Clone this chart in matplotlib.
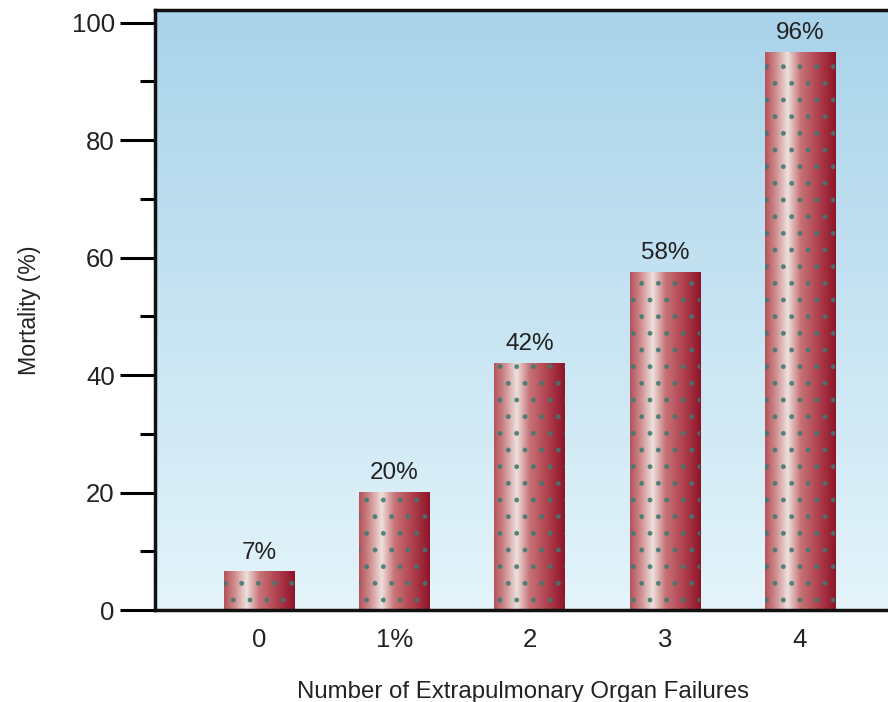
import numpy as np
import matplotlib
matplotlib.use('Agg')
import matplotlib.pyplot as plt
from matplotlib.colors import LinearSegmentedColormap

plt.rcParams['font.family'] = ['Liberation Sans', 'DejaVu Sans']
plt.rcParams['hatch.linewidth'] = 1.1

# Data
categories = ['0', '1%', '2', '3', '4']
mortality = [6.5, 20, 42, 57.5, 95]
value_labels = ['7%', '20%', '42%', '58%', '96%']

fig = plt.figure(figsize=(8.88, 7.02), dpi=100)
ax = fig.add_axes([0.1745, 0.131, 0.83, 0.855])

x = np.arange(len(categories))
bar_w = 0.52

# background gradient (light blue top -> nearly white bottom)
bg = LinearSegmentedColormap.from_list('bg', ['#e4f4fa', '#a9d3ea'])
grad = np.linspace(0, 1, 256).reshape(-1, 1)
ax.imshow(grad, cmap=bg, origin='lower', aspect='auto', extent=[0, 1, 0, 1],
          transform=ax.transAxes, zorder=0)

# shaded cylinder look for the bars
barcm = LinearSegmentedColormap.from_list('bar', [
    (0.0, '#b4525a'), (0.15, '#cf8c8e'), (0.32, '#eee0dc'),
    (0.5, '#c77378'), (0.75, '#b0414f'), (1.0, '#8e1428')])
hgrad = np.linspace(0, 1, 256).reshape(1, -1)

bars = ax.bar(x, mortality, width=bar_w, facecolor='none', edgecolor='#3d7a72',
              linewidth=0, hatch='.', zorder=3, alpha=0.8)
for b in bars:
    x0, w, h = b.get_x(), b.get_width(), b.get_height()
    ax.imshow(hgrad, cmap=barcm, aspect='auto', extent=[x0, x0 + w, 0, h], zorder=2)

for xi, h, lab in zip(x, mortality, value_labels):
    ax.annotate(lab, (xi, h), xytext=(0, 6), textcoords='offset points',
                ha='center', va='bottom', fontsize=17.5, color='#222222')

ax.set_xlim(-0.77, 4.68)
ax.set_ylim(0, 102.2)

ax.set_xticks(x)
ax.set_xticklabels(categories)
ax.set_yticks(range(0, 101, 20))
ax.set_yticks(range(10, 100, 20), minor=True)
ax.tick_params(axis='x', length=0, pad=13, labelsize=18.5, labelcolor='#222222')
ax.tick_params(axis='y', which='major', length=25, width=2.2, pad=4,
               labelsize=18.5, labelcolor='#222222')
ax.tick_params(axis='y', which='minor', length=11, width=2.2)

for s in ['left', 'bottom', 'top']:
    ax.spines[s].set_linewidth(2.5)
    ax.spines[s].set_color('#111111')
ax.spines['right'].set_visible(False)

ax.set_xlabel('Number of Extrapulmonary Organ Failures', fontsize=17.3,
              color='#222222', labelpad=21)
ax.set_ylabel('Mortality (%)', fontsize=16.7, color='#222222', labelpad=22)

fig.savefig('out.png', dpi=100)
